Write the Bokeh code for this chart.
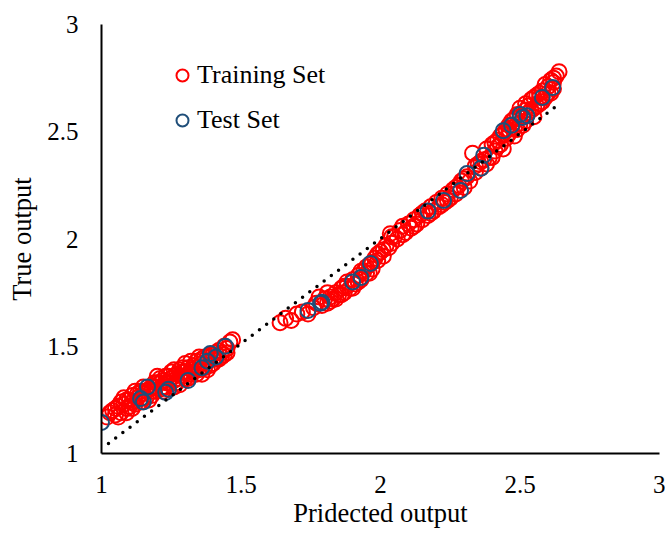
from bokeh.plotting import figure
from bokeh.models import Range1d, Legend, LegendItem, FixedTicker
from bokeh.embed import file_html
from bokeh.resources import INLINE

# ---- data ----
train_x = [1.02, 1.04, 1.05, 1.06, 1.07, 1.08, 1.09, 1.10, 1.10, 1.11, 1.12, 1.13, 1.14, 1.15, 1.16,
           1.17, 1.18, 1.18, 1.19, 1.20, 1.21, 1.22, 1.22, 1.23, 1.24, 1.25, 1.25, 1.26, 1.27, 1.27,
           1.28, 1.29, 1.30, 1.30, 1.31, 1.32, 1.33, 1.33, 1.34, 1.35, 1.36, 1.37, 1.37, 1.38, 1.39,
           1.40, 1.41, 1.42, 1.43, 1.44, 1.45, 1.46, 1.47, 1.24, 1.20, 1.15, 1.28, 1.32, 1.35, 1.12,
           1.08, 1.36,
           1.06, 1.09, 1.11, 1.14, 1.17, 1.19, 1.21, 1.23, 1.26, 1.29, 1.31, 1.34, 1.38, 1.40, 1.42,
           1.44, 1.39, 1.30,
           1.03, 1.05, 1.07, 1.09, 1.11, 1.13, 1.15, 1.16, 1.18, 1.19, 1.21, 1.23, 1.24, 1.26, 1.27,
           1.29, 1.31, 1.32, 1.34, 1.36, 1.38, 1.40, 1.41, 1.43, 1.45, 1.26, 1.22,
           1.64, 1.66, 1.68, 1.70, 1.72, 1.74, 1.76, 1.77, 1.79, 1.80, 1.81, 1.82, 1.83, 1.84, 1.85,
           1.86, 1.87, 1.88, 1.89, 1.90, 1.91, 1.92, 1.93, 1.94, 1.95, 1.96, 1.97, 1.98, 1.99, 2.00,
           2.01, 2.02, 2.035, 2.04, 2.05, 2.06, 2.07, 2.08, 2.09, 2.10, 2.11, 2.12, 2.13, 2.14, 2.15,
           2.16, 2.17, 2.18, 2.19, 2.20, 2.21, 2.22, 2.23, 2.24, 2.25, 2.26, 2.27, 2.28, 2.29, 2.30,
           2.31, 2.32, 2.33, 2.34, 2.35, 2.36, 2.37, 2.38, 2.39, 2.40, 2.41, 2.42, 2.43, 2.44, 2.45,
           2.46, 2.46, 2.47, 2.48, 2.49, 2.50, 2.50, 2.51, 2.52, 2.53, 2.54, 2.55, 2.56, 2.57, 2.58,
           2.59, 2.60, 2.61, 2.62, 2.63, 2.64, 2.62, 2.55, 2.44, 2.52,
           1.78, 1.82, 1.86, 1.88, 1.92, 1.95, 1.97, 2.03, 2.08, 2.15, 2.22, 2.27, 2.34, 2.40, 2.42,
           2.45, 2.48, 2.51, 2.53, 2.56, 2.58, 2.59, 2.61, 2.57, 2.54, 2.49,
           1.81, 1.84, 1.87, 1.90, 1.93, 1.96, 1.99, 2.01, 2.04, 2.12, 2.18, 2.24, 2.30, 2.36, 2.41,
           2.43, 2.46, 2.47, 2.50, 2.52, 2.55, 2.57, 2.60, 2.62, 2.48, 2.38]
train_y = [1.17, 1.20, 1.18, 1.22, 1.19, 1.23, 1.21, 1.25, 1.22, 1.27, 1.23, 1.26, 1.24, 1.28, 1.26,
           1.30, 1.27, 1.31, 1.29, 1.33, 1.30, 1.34, 1.31, 1.36, 1.33, 1.35, 1.38, 1.34, 1.37, 1.33,
           1.39, 1.36, 1.38, 1.35, 1.40, 1.37, 1.41, 1.38, 1.43, 1.39, 1.42, 1.40, 1.45, 1.43, 1.41,
           1.46, 1.44, 1.48, 1.45, 1.50, 1.47, 1.52, 1.53, 1.30, 1.36, 1.31, 1.32, 1.43, 1.45, 1.29,
           1.26, 1.37,
           1.17, 1.25, 1.21, 1.29, 1.25, 1.33, 1.35, 1.31, 1.39, 1.40, 1.35, 1.37, 1.39, 1.42, 1.44,
           1.46, 1.46, 1.42,
           1.19, 1.21, 1.24, 1.19, 1.24, 1.28, 1.26, 1.29, 1.29, 1.31, 1.33, 1.33, 1.36, 1.36, 1.35,
           1.38, 1.37, 1.39, 1.40, 1.44, 1.45, 1.44, 1.47, 1.47, 1.49, 1.31, 1.29,
           1.61, 1.63, 1.62, 1.65, 1.66, 1.65, 1.68, 1.70, 1.69, 1.72, 1.70, 1.73, 1.72, 1.75, 1.74,
           1.77, 1.75, 1.78, 1.77, 1.81, 1.79, 1.83, 1.81, 1.85, 1.84, 1.88, 1.86, 1.91, 1.90, 1.94,
           1.92, 1.97, 2.025, 1.98, 2.01, 2.00, 2.04, 2.06, 2.03, 2.07, 2.05, 2.09, 2.07, 2.11, 2.09,
           2.13, 2.11, 2.15, 2.13, 2.17, 2.15, 2.19, 2.17, 2.21, 2.19, 2.23, 2.21, 2.25, 2.27, 2.24,
           2.29, 2.27, 2.40, 2.31, 2.35, 2.33, 2.37, 2.42, 2.38, 2.44, 2.41, 2.46, 2.44, 2.49, 2.47,
           2.53, 2.49, 2.55, 2.52, 2.58, 2.54, 2.61, 2.57, 2.63, 2.59, 2.65, 2.61, 2.67, 2.63, 2.69,
           2.66, 2.71, 2.68, 2.73, 2.76, 2.78, 2.70, 2.57, 2.42, 2.55,
           1.73, 1.71, 1.74, 1.80, 1.80, 1.87, 1.89, 1.96, 2.02, 2.12, 2.16, 2.24, 2.34, 2.38, 2.43,
           2.51, 2.56, 2.53, 2.62, 2.62, 2.64, 2.72, 2.74, 2.68, 2.60, 2.51,
           1.75, 1.72, 1.78, 1.77, 1.85, 1.84, 1.93, 1.95, 2.01, 2.06, 2.12, 2.18, 2.28, 2.36, 2.45,
           2.48, 2.51, 2.52, 2.57, 2.60, 2.66, 2.66, 2.68, 2.75, 2.48, 2.35]

test_x = [1.00, 1.14, 1.15, 1.165, 1.23, 1.24, 1.31, 1.36, 1.38, 1.39, 1.41, 1.444,
          1.74, 1.785, 1.79, 1.90, 1.93, 1.964, 2.17, 2.226, 2.287, 2.31, 2.36, 2.37,
          2.44, 2.47, 2.51, 2.525, 2.50, 2.58, 2.617]
test_y = [1.145, 1.256, 1.24, 1.31, 1.285, 1.30, 1.34, 1.40, 1.43, 1.466, 1.45, 1.50,
          1.667, 1.70, 1.705, 1.80, 1.82, 1.886, 2.13, 2.18, 2.226, 2.305, 2.33, 2.39,
          2.505, 2.53, 2.566, 2.575, 2.58, 2.66, 2.706]

trend_x = [1.025, 2.638]
trend_y = [1.047, 2.627]

x_ticks = [1, 1.5, 2, 2.5, 3]
y_ticks = [1, 1.5, 2, 2.5, 3]

FONT = "Liberation Serif"
RED = "#FF0000"
BLUE = "#1F4E79"

p = figure(width=665, height=536, output_backend="svg", toolbar_location=None,
           x_range=Range1d(1, 3), y_range=Range1d(1, 3),
           min_border_left=101, min_border_right=6, min_border_top=24, min_border_bottom=83)
p.outline_line_color = None
p.grid.visible = False

r_train = p.scatter(train_x, train_y, size=15, marker="circle", fill_color=None,
                    line_color=RED, line_width=2)
r_test = p.scatter(test_x, test_y, size=15, marker="circle", fill_color=None,
                   line_color=BLUE, line_width=2)
p.line(trend_x, trend_y, line_color="black", line_width=3.5, line_dash="0 9",
       line_cap="round")

for ax in (p.xaxis[0], p.yaxis[0]):
    ax.ticker = FixedTicker(ticks=x_ticks)
    ax.major_tick_line_color = None
    ax.minor_tick_line_color = None
    ax.major_tick_out = 0
    ax.major_tick_in = 0
    ax.axis_line_color = "black"
    ax.axis_line_width = 2
    ax.major_label_text_font = FONT
    ax.major_label_text_font_size = "25px"
    ax.major_label_text_color = "black"
    ax.axis_label_text_font = FONT
    ax.axis_label_text_font_size = "26.5px"
    ax.axis_label_text_font_style = "normal"
    ax.axis_label_text_color = "black"

p.yaxis[0].ticker = FixedTicker(ticks=y_ticks)
p.xaxis[0].axis_label = "Pridected output"
p.yaxis[0].axis_label = "True output"
p.xaxis[0].major_label_standoff = 22
p.xaxis[0].axis_label_standoff = 2
p.yaxis[0].major_label_standoff = 23
p.yaxis[0].axis_label_standoff = 7

legend = Legend(items=[LegendItem(label="Training Set", renderers=[r_train]),
                       LegendItem(label="Test Set", renderers=[r_test])],
                location=(66, 315), orientation="vertical",
                glyph_width=30, glyph_height=36, label_height=36, spacing=9,
                label_standoff=0, padding=0, margin=0,
                border_line_color=None, background_fill_alpha=0,
                label_text_font=FONT, label_text_font_size="26px", label_text_color="black")
p.add_layout(legend, "center")

open("out.html", "w").write(file_html(p, INLINE))
